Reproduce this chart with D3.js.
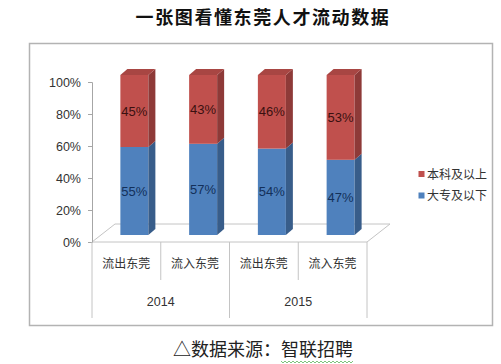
<!DOCTYPE html>
<html><head><meta charset="utf-8">
<script src="https://cdn.jsdelivr.net/npm/d3@7/dist/d3.min.js"></script>
<style>html,body{margin:0;padding:0;background:#fff;}svg{display:block;}</style>
</head><body>
<script>
const categories = ["流出东莞","流入东莞","流出东莞","流入东莞"];
const years = ["2014","2015"];
const seriesNames = ["大专及以下","本科及以上"];
const lowerValues = [55,57,54,47];
const upperValues = [45,43,46,53];
const yTicks = [0,20,40,60,80,100];
const titleText = "一张图看懂东莞人才流动数据";
const sourcePrefix = "△数据来源：";
const sourceName = "智联招聘";

const W=501,H=364;
const cjk = "'Noto Sans CJK SC','Noto Sans',sans-serif";
const lat = "'Liberation Sans',Arial,sans-serif";
const svg=d3.select("body").append("svg").attr("width",W).attr("height",H);

// title
svg.append("text").attr("x",263).attr("y",24).attr("text-anchor","middle")
  .style("font-family",cjk).style("font-weight","bold").style("font-size","18px")
  .style("letter-spacing","1.6px").attr("fill","#111").text(titleText);

// chart box
svg.append("rect").attr("x",29.5).attr("y",43.5).attr("width",463).attr("height",282)
  .attr("fill","#fff").attr("stroke","#b3b3b3").attr("stroke-width",1.5);

const x=d3.scaleBand().domain(d3.range(categories.length)).range([92,367]).paddingInner(0).paddingOuter(0);
const y=d3.scaleLinear().domain([0,100]).range([242,82]);
const floorDX=23, floorDY=-18;
const barShiftX=8, barShiftY=-7;
const barW=28, depX=7, depY=-6;
const gridCol="#c4c4c4";

// floor
const x0=x.range()[0], x1=x.range()[1], y0=y(0);
svg.append("path").attr("d",`M${x0},${y0}L${x0+floorDX},${y0+floorDY}L${x1+floorDX},${y0+floorDY}L${x1},${y0}Z`)
  .attr("fill","none").attr("stroke",gridCol).attr("stroke-width",1);

// y axis
const ya=svg.append("g").attr("transform",`translate(${x0},0)`).call(d3.axisLeft(y).tickValues(yTicks).tickFormat(d=>d+"%").tickSize(4).tickPadding(7));
ya.select(".domain").attr("stroke","#a6a6a6");
ya.selectAll(".tick line").attr("stroke","#a6a6a6");
ya.selectAll("text").style("font-family",lat).style("font-size","12.5px").attr("fill","#333");

// x category table lines
const bw=x.bandwidth();
categories.forEach((c,i)=>{
  const xs=x(i);
  const isGroup = i%2===0;
  svg.append("line").attr("x1",xs).attr("x2",xs).attr("y1",y0).attr("y2",isGroup?318:280).attr("stroke",gridCol);
});
svg.append("line").attr("x1",x1).attr("x2",x1).attr("y1",y0).attr("y2",318).attr("stroke",gridCol);
svg.selectAll(".cat").data(categories).enter().append("text")
  .attr("x",(d,i)=>x(i)+bw/2).attr("y",268).attr("text-anchor","middle")
  .style("font-family",cjk).style("font-size","12px").attr("fill","#333").text(d=>d);
svg.selectAll(".yr").data(years).enter().append("text")
  .attr("x",(d,i)=>x(i*2)+bw).attr("y",306).attr("text-anchor","middle")
  .style("font-family",lat).style("font-size","12.5px").attr("fill","#333").text(d=>d);

// bars
const colors=[{front:"#4F81BD",side:"#385D8A",top:"#4573AA",label:"#13305a"},
              {front:"#C0504D",side:"#8E3A38",top:"#A84643",label:"#3a1010"}];
categories.forEach((c,i)=>{
  const bx=x(i)+bw/2+barShiftX-barW/2;
  const segs=[[0,lowerValues[i]],[lowerValues[i],lowerValues[i]+upperValues[i]]];
  segs.forEach((s,k)=>{
    const yb=y(s[0])+barShiftY, yt=y(s[1])+barShiftY;
    const col=colors[k];
    svg.append("rect").attr("x",bx).attr("y",yt).attr("width",barW).attr("height",yb-yt).attr("fill",col.front);
    svg.append("path").attr("d",`M${bx+barW},${yt}L${bx+barW+depX},${yt+depY}L${bx+barW+depX},${yb+depY}L${bx+barW},${yb}Z`).attr("fill",col.side);
    if(k===1){
      svg.append("path").attr("d",`M${bx},${yt}L${bx+depX},${yt+depY}L${bx+barW+depX},${yt+depY}L${bx+barW},${yt}Z`).attr("fill",col.top);
    }
    const v=s[1]-s[0];
    svg.append("text").attr("x",bx+barW/2).attr("y",(yt+yb)/2+4.5).attr("text-anchor","middle")
      .style("font-family",lat).style("font-size","13px").attr("fill",col.label).text(v+"%");
  });
});

// legend
const legendItems=[{name:seriesNames[1],color:colors[1].front},{name:seriesNames[0],color:colors[0].front}];
legendItems.forEach((d,i)=>{
  const ly=171+i*21.5;
  svg.append("rect").attr("x",418.5).attr("y",ly).attr("width",6).attr("height",6).attr("fill",d.color);
  svg.append("text").attr("x",427).attr("y",ly+7.5).style("font-family",cjk).style("font-size","12px").attr("fill","#333").text(d.name);
});

// source
const src=svg.append("text").attr("x",263).attr("y",356).attr("text-anchor","middle")
  .style("font-family",cjk).style("font-size","18px").attr("fill","#222");
src.append("tspan").text(sourcePrefix);
const nameSpan=src.append("tspan").text(sourceName);
const bb=nameSpan.node().getBBox ? null : null;
// wavy underline under name
const full=src.node().getComputedTextLength();
const nameLen=nameSpan.node().getComputedTextLength();
const endX=263+full/2, startX=endX-nameLen;
let d=`M${startX},361`;
for(let xx=startX, k=0; xx<endX; xx+=2, k++){ d+=`L${xx+2},${k%2?361:363}`; }
svg.append("path").attr("d",d).attr("fill","none").attr("stroke","#5bb55b").attr("stroke-width",0.8);
</script>
</body></html>
